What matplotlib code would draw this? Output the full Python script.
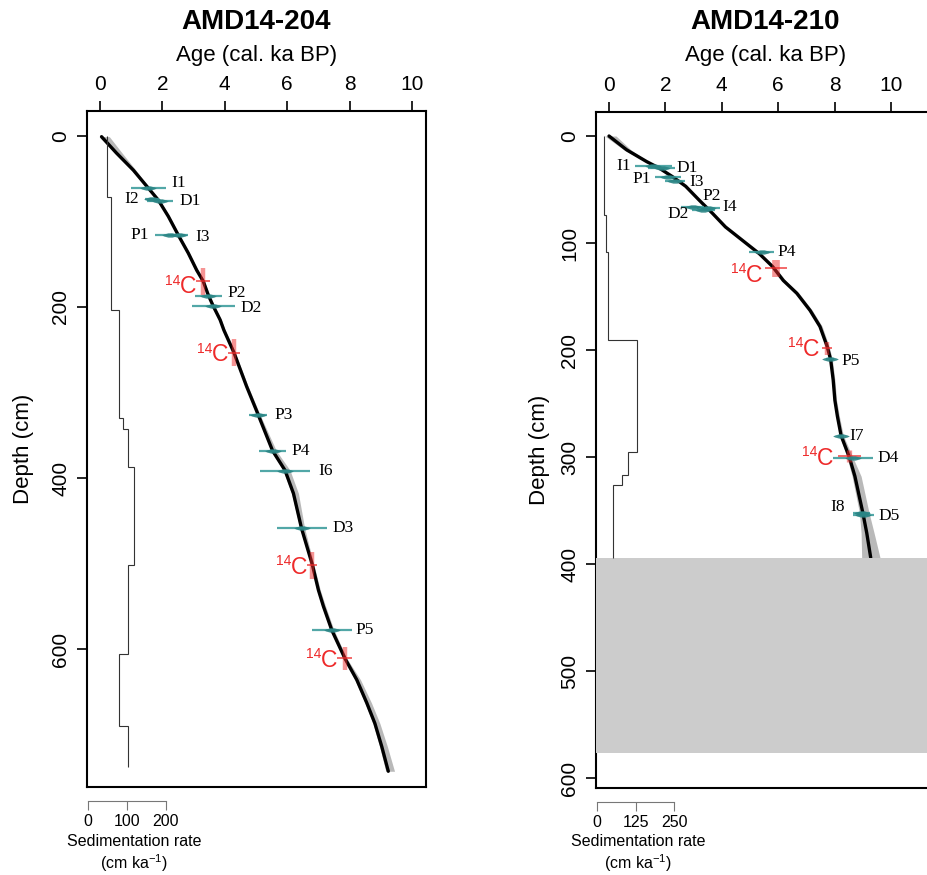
import matplotlib
matplotlib.use('Agg')
import matplotlib.pyplot as plt
import numpy as np
from matplotlib.path import Path

plt.rcParams['font.family'] = ['Liberation Sans', 'DejaVu Sans']
plt.rcParams['mathtext.fontset'] = 'custom'
plt.rcParams['mathtext.rm'] = 'Liberation Sans'
plt.rcParams['mathtext.it'] = 'Liberation Sans:italic'
plt.rcParams['mathtext.bf'] = 'Liberation Sans:bold'

# ---------------- AMD14-204 ----------------
t204_title = 'AMD14-204'
c204_depth = [0.8, 20, 40, 61, 75, 94, 116, 137, 157, 170, 186, 199, 215, 227, 253, 293,
              326, 368, 391, 418, 459, 502, 531, 550, 578, 611, 636, 663, 687, 714, 743]
c204_age = [0.05, 0.53, 1.07, 1.55, 1.87, 2.19, 2.51, 2.83, 3.10, 3.31, 3.47, 3.63, 3.85, 3.97,
            4.29, 4.70, 5.07, 5.53, 5.93, 6.20, 6.46, 6.81, 7.00, 7.16, 7.43, 7.85, 8.23, 8.55,
            8.81, 9.03, 9.24]
c204_minus = [0.08, 0.06, 0.05, 0.04, 0.04, 0.04, 0.04, 0.04, 0.04, 0.04, 0.04, 0.04, 0.04, 0.04,
              0.04, 0.04, 0.04, 0.05, 0.06, 0.06, 0.05, 0.04, 0.05, 0.05, 0.05, 0.05, 0.06, 0.06,
              0.06, 0.07, 0.08]
c204_plus = [0.25, 0.18, 0.08, 0.04, 0.04, 0.04, 0.04, 0.04, 0.04, 0.04, 0.04, 0.04, 0.04, 0.04,
             0.04, 0.05, 0.06, 0.12, 0.16, 0.16, 0.10, 0.05, 0.06, 0.07, 0.07, 0.06, 0.12, 0.15,
             0.16, 0.18, 0.20]

d204_names = ['I1', 'I2', 'D1', 'P1', 'I3', 'P2', 'D2', 'P3', 'P4', 'I6', 'D3', 'P5']
d204_age = [1.55, 1.66, 1.92, 2.24, 2.54, 3.47, 3.63, 5.07, 5.53, 5.93, 6.46, 7.43]
d204_err = [0.56, 0.22, 0.41, 0.48, 0.29, 0.43, 0.69, 0.29, 0.43, 0.79, 0.80, 0.64]
d204_depth = [61, 74, 76, 116, 116, 187, 199, 326, 368, 392, 459, 578]

r204_age = [3.31, 4.29, 6.80, 7.85]
r204_age_err = [0.23, 0.19, 0.15, 0.24]
r204_depth = [170, 253.5, 502, 611]
r204_depth_err = [16, 16, 16, 13]

s204_bounds = [0, 71, 203, 330, 343, 387, 502, 606, 690, 738]
s204_rate = [48, 59, 79, 90, 102, 118, 102, 79, 102]
s204_ticks = [0, 100, 200]

# ---------------- AMD14-210 ----------------
t210_title = 'AMD14-210'
c210_depth = [0, 13, 24, 30, 38, 47, 60, 72, 85, 100, 110, 122, 135, 147, 163, 178, 197, 209,
              228, 247, 262, 280, 300, 318, 352, 371, 394]
c210_age = [0.0, 0.63, 1.34, 1.78, 2.25, 2.72, 3.20, 3.66, 4.13, 4.85, 5.33, 5.80, 6.18, 6.66,
            7.13, 7.48, 7.74, 7.86, 7.95, 8.01, 8.10, 8.23, 8.52, 8.72, 9.00, 9.14, 9.28]
c210_minus = [0.15, 0.10, 0.05, 0.04, 0.04, 0.04, 0.04, 0.04, 0.04, 0.04, 0.04, 0.05, 0.05, 0.05,
              0.05, 0.05, 0.05, 0.05, 0.05, 0.05, 0.05, 0.05, 0.08, 0.10, 0.12, 0.20, 0.32]
c210_plus = [0.25, 0.15, 0.06, 0.04, 0.04, 0.04, 0.04, 0.04, 0.04, 0.05, 0.06, 0.07, 0.08, 0.08,
             0.08, 0.08, 0.07, 0.06, 0.06, 0.06, 0.07, 0.08, 0.12, 0.22, 0.22, 0.26, 0.33]

d210_names = ['I1', 'D1', 'P1', 'I3', 'P2', 'I4', 'D2', 'P4', 'P5', 'I7', 'D4', 'I8', 'D5']
d210_age = [1.57, 1.87, 2.10, 2.34, 2.97, 3.52, 3.34, 5.41, 7.84, 8.23, 8.66, 8.96, 9.02]
d210_err = [0.66, 0.47, 0.47, 0.36, 0.40, 0.40, 0.41, 0.43, 0.15, 0.10, 0.71, 0.30, 0.38]
d210_depth = [28, 29.6, 38.6, 41.7, 66, 67.6, 69.2, 108.7, 208.7, 280, 300.6, 352, 354]

r210_age = [5.92, 7.74, 8.52]
r210_age_err = [0.38, 0.18, 0.41]
r210_depth = [123.7, 198.4, 299]
r210_depth_err = [8, 6, 6]

s210_bounds = [0, 74, 108, 191, 295, 317, 326, 394]
s210_rate = [23, 29, 37, 130, 100, 81, 52]
s210_ticks = [0, 125, 250]

gap210 = (394, 577)

# ---------------- layout / style (not data) ----------------
W, H = 928, 875
TEAL = '#3f9e9e'
TEAL_D = '#2a8484'
RED = '#ee2a2a'
BAND = '#b9b9b9'

# label layout: side and (dx, dy) offsets in points
lab204 = {'I1': ('r', 2, 3.5), 'I2': ('l', -2, 0), 'D1': ('r', 3, 0), 'P1': ('l', -2, 0),
          'I3': ('r', 3, -1), 'P2': ('r', 2, 2), 'D2': ('r', 2, -1), 'P3': ('r', 3, 0),
          'P4': ('r', 2, 0), 'I6': ('r', 4, 0), 'D3': ('r', 2, 0), 'P5': ('r', 1, 0)}
lab210 = {'I1': ('l', -1, 0), 'D1': ('r', -1, 0), 'P1': ('l', -1, -1.5), 'I3': ('r', 1, -1),
          'P2': ('r', -3, 8), 'I4': ('r', 0, 1), 'D2': ('l', 0, -3), 'P4': ('r', 1, 0),
          'P5': ('r', 3, -1), 'I7': ('r', 2, 0), 'D4': ('r', 1, 0), 'I8': ('l', -4, 4),
          'D5': ('r', 1, -1)}
c14off204 = [(0, -4), (0, -1.5), (0, -1.5), (0, -1.5)]
c14off210 = [(-2, -5), (-2, -1), (-3, -1.5)]

lens = Path([(-1, 0), (0, 0.55), (1, 0), (0, -0.55), (-1, 0)],
            [Path.MOVETO, Path.CURVE3, Path.CURVE3, Path.CURVE3, Path.CURVE3])

fig = plt.figure(figsize=(W / 100, H / 100), dpi=100)


def panel(rect_px, xlim, ylim, yticks, title, cd, ca, cm, cp, names, dage, derr, ddep,
          labs, rage, rerr, rdep, rderr, c14off, sb, sr, sticks, slim, c14lw,
          ylab_xy, sedlab_xy, gap=None):
    x0, y0, x1, y1 = rect_px
    ax = fig.add_axes([x0 / W, 1 - y1 / H, (x1 - x0) / W, (y1 - y0) / H])
    ax.set_xlim(*xlim)
    ax.set_ylim(*ylim)

    # sedimentation-rate twin axis
    axs = ax.twiny()
    axs.set_xlim(*slim)
    axs.stairs(sr, sb, orientation='horizontal', baseline=None, color='#333333', lw=0.8)
    for s in ['top', 'left', 'right']:
        axs.spines[s].set_visible(False)
    axs.spines['bottom'].set_visible(True)
    axs.spines['bottom'].set_position(('outward', 10))
    axs.spines['bottom'].set_bounds(sticks[0], sticks[-1])
    axs.spines['bottom'].set_color('#777777')
    axs.spines['bottom'].set_linewidth(0.8)
    axs.xaxis.tick_bottom()
    axs.set_xticks(sticks)
    axs.tick_params(axis='x', length=6.5, width=0.8, color='#777777', pad=3, labelsize=11.5)
    axs.text(sedlab_xy[0], sedlab_xy[1], 'Sedimentation rate\n(cm ka$^{-1}$)',
             transform=ax.transAxes, ha='center', va='center', fontsize=11.5,
             linespacing=1.15)

    ax.xaxis.tick_top()
    ax.set_xticks([0, 2, 4, 6, 8, 10])
    ax.set_yticks(yticks)
    ax.tick_params(axis='both', length=7, width=1.2, labelsize=15, pad=5)
    ax.tick_params(axis='y', labelrotation=90)
    for lab in ax.get_yticklabels():
        lab.set_va('center')
    for s in ax.spines.values():
        s.set_linewidth(1.5)
    ax.set_ylabel('Depth (cm)', fontsize=16)
    ax.yaxis.set_label_coords(*ylab_xy)
    ax.text(0.5, 1 + (y0 - 55) / (y1 - y0), 'Age (cal. ka BP)', transform=ax.transAxes,
            ha='center', va='center', fontsize=16)
    ax.text(0.5, 1 + (y0 - 22) / (y1 - y0), title, transform=ax.transAxes,
            ha='center', va='center', fontsize=20, fontweight='bold')

    # uncertainty band and age model
    cd = np.array(cd); ca = np.array(ca)
    ax.fill_betweenx(cd, ca - np.array(cm), ca + np.array(cp), color=BAND, lw=0, zorder=2)
    ax.plot(ca, cd, color='black', lw=2.4, zorder=3, solid_capstyle='round')

    # luminescence / other dates
    for n, a, e, d in zip(names, dage, derr, ddep):
        ax.plot([a - e, a + e], [d, d], color=TEAL, lw=1.6, alpha=0.9, zorder=4,
                solid_capstyle='butt')
        ax.plot([a], [d], marker=lens, ms=12, color=TEAL_D, mec='none', alpha=0.9, zorder=5)
        side, dx, dy = labs[n]
        if side == 'r':
            ax.annotate(n, (a + e, d), xytext=(2 + dx, dy), textcoords='offset points',
                        ha='left', va='center', fontsize=12.5, family='Liberation Serif',
                        zorder=6)
        else:
            ax.annotate(n, (a - e, d), xytext=(-2 + dx, dy), textcoords='offset points',
                        ha='right', va='center', fontsize=12.5, family='Liberation Serif',
                        zorder=6)

    # radiocarbon dates
    for i, (a, e, d, de) in enumerate(zip(rage, rerr, rdep, rderr)):
        ax.plot([a, a], [d - de, d + de], color=RED, lw=c14lw[i], alpha=0.5, zorder=4,
                solid_capstyle='butt')
        ax.plot([a - e, a + e], [d, d], color=RED, lw=1.4, alpha=0.7, zorder=4,
                solid_capstyle='butt')
        dx, dy = c14off[i]
        ax.annotate('C', (a - e, d), xytext=(dx, dy), textcoords='offset points',
                    ha='right', va='center', fontsize=16.5, color=RED, zorder=6)
        ax.annotate('14', (a - e, d), xytext=(dx - 11.5, dy + 4.5), textcoords='offset points',
                    ha='right', va='center', fontsize=10, color=RED, zorder=6)

    if gap is not None:
        ax.axhspan(gap[0], gap[1], color='#cccccc', lw=0, zorder=7)
    return ax


# left panel: px geometry -> data limits
panel((87, 111, 426, 787), ((87 - 100) / 31.2, (426 - 100) / 31.2),
      ((787 - 136) / 0.855, (111 - 136) / 0.855), [0, 200, 400, 600], t204_title,
      c204_depth, c204_age, c204_minus, c204_plus,
      d204_names, d204_age, d204_err, d204_depth, lab204,
      r204_age, r204_age_err, r204_depth, r204_depth_err, c14off204,
      s204_bounds, s204_rate, s204_ticks, ((87 - 88) / 0.39, (426 - 88) / 0.39),
      [3.2, 3.2, 3.2, 3.2], (-0.156, 0.5), (0.139, -0.099))

panel((596, 112, 935, 788), ((596 - 609) / 28.2, (935 - 609) / 28.2),
      ((788 - 136) / 1.07, (112 - 136) / 1.07), [0, 100, 200, 300, 400, 500, 600], t210_title,
      c210_depth, c210_age, c210_minus, c210_plus,
      d210_names, d210_age, d210_err, d210_depth, lab210,
      r210_age, r210_age_err, r210_depth, r210_depth_err, c14off210,
      s210_bounds, s210_rate, s210_ticks, ((596 - 597) / 0.308, (935 - 597) / 0.308),
      [5.5, 3.2, 3.8], (-0.136, 0.5), (0.124, -0.0976), gap=gap210)

fig.savefig('out.png', dpi=100)
